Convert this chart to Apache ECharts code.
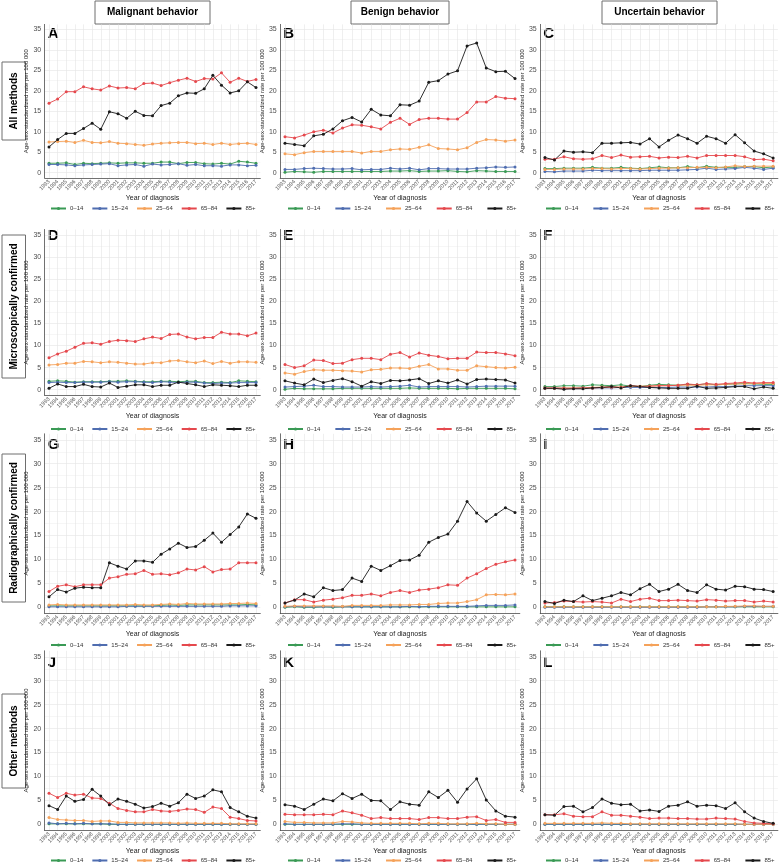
<!DOCTYPE html>
<html><head><meta charset="utf-8">
<script src="https://cdn.jsdelivr.net/npm/echarts@6/dist/echarts.min.js"></script>
<style>html,body{margin:0;padding:0;background:#fff}#c{width:780px;height:864px}</style>
</head><body><div id="c"></div>
<script>
const years = [1993,1994,1995,1996,1997,1998,1999,2000,2001,2002,2003,2004,2005,2006,2007,2008,2009,2010,2011,2012,2013,2014,2015,2016,2017];
const ageGroups = ['0–14','15–24','25–64','65–84','85+'];
const yTicks = [0,5,10,15,20,25,30,35];
const panelLetters = ['A','B','C','D','E','F','G','H','I','J','K','L'];
const columnTitles = ['Malignant behavior','Benign behavior','Uncertain behavior'];
const rowTitles = ['All methods','Microscopically confirmed','Radiographically confirmed','Other methods'];

// each panel: [0–14, 15–24, 25–64, 65–84, 85+]
const A_rates = [
 [2.3,2.3,2.4,2.0,2.3,2.2,2.3,2.4,2.3,2.4,2.4,2.3,2.3,2.6,2.6,2.2,2.5,2.5,2.2,2.1,2.3,2.1,2.8,2.6,2.3],
 [2.0,2.0,1.9,1.7,1.9,2.0,2.1,2.2,1.7,1.9,2.0,1.6,2.1,1.9,2.0,2.2,1.8,2.0,1.7,1.7,1.6,1.9,1.9,1.7,1.8],
 [7.5,7.6,7.7,7.4,7.9,7.4,7.3,7.6,7.2,7.1,6.9,6.7,7.0,7.2,7.3,7.4,7.4,7.1,7.2,6.9,7.2,6.9,7.1,7.2,6.9],
 [17.0,18.0,19.8,19.8,21.0,20.5,20.2,21.2,20.7,20.8,20.5,21.8,21.9,21.3,22.0,22.6,23.1,22.3,23.0,22.9,24.4,22.1,23.1,22.3,22.8],
 [6.3,8.1,9.6,9.6,10.8,12.1,10.6,14.9,14.4,13.3,15.0,14.0,13.9,16.4,17.0,18.8,19.5,19.4,20.5,23.8,21.4,19.5,20.0,22.2,20.8]
];
const B_rates = [
 [0.1,0.3,0.2,0.1,0.3,0.3,0.3,0.3,0.3,0.3,0.3,0.4,0.4,0.5,0.3,0.4,0.4,0.5,0.3,0.2,0.5,0.4,0.3,0.3,0.3],
 [0.8,0.8,1.0,1.1,1.0,0.9,0.9,1.0,0.7,0.8,0.8,1.1,0.9,1.1,0.7,1.0,1.0,0.9,0.9,0.9,1.1,1.2,1.4,1.3,1.4],
 [4.6,4.4,4.9,5.2,5.2,5.2,5.2,5.2,4.8,5.2,5.2,5.6,5.8,5.7,6.2,6.8,5.9,5.8,5.6,6.1,7.4,8.1,8.0,7.7,8.0],
 [8.8,8.5,9.2,10.0,10.4,9.7,10.9,11.7,11.6,11.2,10.7,12.3,13.3,11.8,13.0,13.3,13.3,13.1,13.1,14.7,17.3,17.3,18.6,18.2,18.1],
 [7.2,6.9,6.6,9.0,9.4,10.7,12.7,13.5,12.4,15.5,14.1,13.9,16.6,16.5,17.5,22.1,22.5,24.1,24.9,31.0,31.7,25.6,24.7,24.8,23.0]
];
const C_rates = [
 [1.0,1.0,1.1,1.1,1.1,1.3,1.1,1.1,1.3,1.1,1.0,1.2,1.4,1.2,1.2,1.5,1.2,1.6,1.3,1.3,1.3,1.5,1.5,1.2,1.4],
 [0.3,0.2,0.4,0.4,0.4,0.6,0.5,0.5,0.5,0.5,0.5,0.6,0.6,0.6,0.6,0.7,0.8,1.1,0.8,0.9,1.0,1.3,1.1,0.8,1.1],
 [0.8,0.8,0.9,0.9,0.9,1.0,1.0,0.9,1.0,1.0,0.9,1.0,1.1,1.1,1.2,1.2,1.3,1.3,1.2,1.4,1.7,1.5,1.6,1.6,1.6],
 [3.3,3.3,3.9,3.4,3.3,3.4,4.2,3.7,4.3,3.8,3.9,4.0,3.6,3.8,3.7,4.0,3.6,4.2,4.2,4.2,4.2,3.9,3.2,3.3,2.9],
 [3.7,3.1,5.3,5.0,5.1,4.9,7.2,7.2,7.3,7.4,7.0,8.3,6.3,7.9,9.2,8.3,7.2,8.9,8.3,7.2,9.3,7.3,5.3,4.6,3.6]
];
const D_rates = [
 [1.9,2.0,1.9,1.7,1.8,1.8,1.8,1.9,1.9,2.0,1.9,1.8,1.8,1.9,1.9,1.8,1.9,1.9,1.6,1.6,1.7,1.6,2.0,1.9,1.8],
 [1.6,1.7,1.6,1.6,1.7,1.7,1.7,1.8,1.7,1.8,1.8,1.7,1.6,1.8,1.7,1.6,1.7,1.7,1.5,1.4,1.5,1.5,1.6,1.6,1.6],
 [5.6,5.7,6.0,6.0,6.4,6.3,6.1,6.3,6.2,6.0,5.8,5.8,6.1,6.1,6.5,6.6,6.3,6.1,6.5,5.9,6.4,6.0,6.3,6.3,6.2],
 [7.2,8.1,8.7,9.6,10.5,10.6,10.3,10.9,11.2,11.1,10.9,11.5,11.9,11.6,12.5,12.6,11.9,11.5,11.8,11.8,13.0,12.6,12.6,12.2,12.8],
 [0.3,1.3,0.7,0.7,1.2,0.7,0.6,1.5,0.5,0.8,1.1,1.1,0.7,1.0,1.0,1.7,1.4,1.1,0.7,1.1,1.0,0.9,0.7,1.0,1.0]
];
const E_rates = [
 [0.1,0.3,0.2,0.2,0.2,0.2,0.3,0.3,0.3,0.3,0.3,0.3,0.3,0.4,0.3,0.3,0.3,0.3,0.2,0.3,0.3,0.3,0.3,0.3,0.2],
 [0.6,0.7,0.8,1.0,0.7,0.7,0.6,0.6,0.6,0.7,0.6,0.7,0.8,1.0,0.6,0.7,0.7,0.7,0.7,0.6,0.7,0.8,0.8,0.8,0.8],
 [3.8,3.5,4.1,4.5,4.4,4.4,4.3,4.2,4.0,4.5,4.6,4.9,4.9,4.8,5.3,5.7,4.7,4.7,4.4,4.4,5.4,5.2,5.0,4.9,5.1],
 [5.7,5.0,5.4,6.7,6.6,5.9,6.0,6.8,7.1,7.1,6.8,8.0,8.4,7.4,8.3,7.8,7.5,7.0,7.1,7.1,8.5,8.4,8.4,8.1,7.7],
 [2.0,1.5,1.1,2.4,1.6,2.1,2.5,1.8,0.8,1.8,1.4,2.1,2.0,2.2,2.5,1.4,2.0,1.5,2.2,1.3,2.3,2.4,2.3,2.2,1.5]
];
const F_rates = [
 [0.7,0.7,0.9,0.9,0.8,1.1,1.0,0.9,1.1,0.8,0.7,1.0,1.2,1.1,1.0,1.2,1.1,1.3,1.1,1.2,1.3,1.4,1.3,1.2,1.2],
 [0.3,0.3,0.3,0.3,0.4,0.4,0.4,0.4,0.5,0.5,0.5,0.5,0.5,0.5,0.6,0.6,0.6,0.6,0.7,0.7,0.8,0.9,0.9,0.9,0.9],
 [0.3,0.3,0.4,0.4,0.4,0.5,0.6,0.6,0.6,0.8,0.8,0.8,0.9,0.9,1.0,1.0,1.0,1.1,1.1,1.2,1.3,1.3,1.4,1.4,1.4],
 [0.4,0.4,0.3,0.3,0.4,0.4,0.5,0.6,0.5,0.9,0.7,0.8,0.9,0.9,1.0,1.3,1.1,1.4,1.2,1.4,1.5,1.7,1.5,1.6,1.6],
 [0.3,0.3,0.1,0.2,0.2,0.4,0.5,0.7,0.4,0.9,0.7,0.5,0.4,0.3,0.3,0.3,0.8,0.3,0.4,0.5,0.7,0.7,0.2,0.6,0.3]
];
const G_rates = [
 [0.3,0.3,0.3,0.3,0.3,0.3,0.3,0.3,0.3,0.3,0.3,0.3,0.3,0.4,0.5,0.4,0.5,0.5,0.5,0.5,0.5,0.5,0.5,0.6,0.5],
 [0.1,0.1,0.1,0.1,0.1,0.1,0.1,0.1,0.1,0.2,0.2,0.2,0.2,0.2,0.2,0.2,0.2,0.2,0.2,0.2,0.2,0.3,0.3,0.3,0.3],
 [0.5,0.6,0.5,0.5,0.5,0.5,0.5,0.5,0.5,0.5,0.6,0.5,0.5,0.6,0.7,0.6,0.8,0.7,0.7,0.7,0.7,0.8,0.8,0.9,0.8],
 [3.3,4.4,4.7,4.3,4.7,4.7,4.7,6.1,6.4,6.9,7.0,7.7,6.9,7.0,6.8,7.2,8.0,7.8,8.5,7.4,7.9,8.0,9.3,9.3,9.3],
 [2.2,3.7,3.2,4.0,4.2,4.1,4.1,9.3,8.6,8.0,9.7,9.7,9.4,11.1,12.2,13.4,12.5,12.7,14.0,15.5,13.6,15.2,16.8,19.5,18.6]
];
const H_rates = [
 [0.0,0.1,0.0,0.0,0.1,0.0,0.1,0.1,0.1,0.1,0.1,0.1,0.1,0.1,0.1,0.1,0.1,0.1,0.1,0.1,0.1,0.1,0.1,0.1,0.1],
 [0.1,0.2,0.1,0.1,0.1,0.1,0.1,0.1,0.1,0.1,0.1,0.1,0.1,0.2,0.1,0.2,0.2,0.2,0.2,0.2,0.3,0.4,0.4,0.4,0.5],
 [0.2,0.3,0.3,0.3,0.3,0.3,0.2,0.4,0.4,0.4,0.4,0.5,0.5,0.5,0.6,0.6,0.8,0.9,0.9,1.2,1.6,2.6,2.7,2.6,2.8],
 [0.9,1.6,1.6,1.1,1.5,1.7,2.0,2.5,2.5,2.8,2.4,3.1,3.5,3.1,3.6,3.8,4.1,4.7,4.6,6.1,7.0,8.1,9.0,9.5,9.9],
 [0.9,1.5,2.8,2.2,4.1,3.5,3.7,6.1,5.4,8.6,7.7,8.7,9.8,9.9,10.9,13.6,14.6,15.3,18.0,22.1,19.7,18.0,19.4,20.8,19.8]
];
const I_rates = [
 [0.1,0.1,0.1,0.1,0.1,0.1,0.1,0.1,0.1,0.1,0.1,0.1,0.1,0.1,0.1,0.1,0.1,0.1,0.1,0.1,0.1,0.1,0.1,0.1,0.1],
 [0.0,0.0,0.0,0.0,0.0,0.0,0.0,0.0,0.0,0.0,0.0,0.0,0.0,0.0,0.0,0.0,0.0,0.1,0.1,0.1,0.1,0.2,0.2,0.2,0.2],
 [0.1,0.1,0.1,0.1,0.1,0.1,0.1,0.1,0.1,0.1,0.1,0.1,0.1,0.1,0.1,0.1,0.1,0.1,0.1,0.2,0.2,0.3,0.3,0.2,0.2],
 [0.9,1.0,1.3,1.2,1.1,1.2,1.1,0.9,1.7,1.2,1.7,1.9,1.4,1.4,1.5,1.4,1.3,1.6,1.5,1.3,1.4,1.4,1.1,1.3,1.1],
 [1.2,0.8,1.5,1.2,2.4,1.4,1.9,2.4,3.1,2.6,3.9,4.8,3.3,3.8,4.8,3.5,3.1,4.7,3.8,3.6,4.4,4.3,3.8,3.7,3.3]
];
const J_rates = [
 [0.1,0.1,0.1,0.1,0.1,0.1,0.1,0.0,0.0,0.0,0.0,0.0,0.0,0.0,0.0,0.0,0.0,0.0,0.0,0.0,0.0,0.0,0.0,0.0,0.0],
 [0.3,0.1,0.2,0.1,0.2,0.1,0.1,0.1,0.0,0.0,0.0,0.0,0.0,0.0,0.0,0.0,0.0,0.0,0.0,0.0,0.0,0.0,0.0,0.0,0.0],
 [1.4,1.0,0.9,0.8,0.8,0.6,0.7,0.7,0.4,0.4,0.3,0.3,0.3,0.3,0.3,0.2,0.3,0.2,0.2,0.2,0.2,0.1,0.1,0.1,0.1],
 [6.5,5.6,6.5,6.1,6.3,5.5,5.4,4.4,3.3,2.9,2.6,2.6,3.1,2.8,2.7,2.9,3.2,3.1,2.5,3.6,3.3,1.5,1.2,0.8,0.7],
 [3.9,3.1,5.9,4.8,5.2,7.3,5.9,4.1,5.3,4.8,4.2,3.4,3.7,4.4,3.8,4.5,6.3,5.4,5.9,7.2,6.8,3.5,2.6,1.7,1.3]
];
const K_rates = [
 [0.0,0.0,0.0,0.0,0.0,0.0,0.0,0.0,0.0,0.0,0.0,0.0,0.0,0.0,0.0,0.0,0.0,0.0,0.0,0.0,0.0,0.0,0.0,0.0,0.0],
 [0.1,0.0,0.0,0.0,0.0,0.0,0.1,0.1,0.0,0.0,0.0,0.0,0.0,0.0,0.0,0.0,0.0,0.0,0.0,0.0,0.0,0.0,0.0,0.0,0.0],
 [0.6,0.4,0.4,0.3,0.3,0.3,0.6,0.5,0.3,0.2,0.2,0.2,0.2,0.2,0.1,0.2,0.2,0.1,0.1,0.1,0.2,0.1,0.1,0.0,0.0],
 [2.1,2.0,2.0,2.0,2.1,2.0,2.8,2.4,1.9,1.2,1.4,1.2,1.2,1.2,1.0,1.4,1.4,1.2,1.2,1.5,1.6,0.8,1.0,0.4,0.4],
 [4.1,3.8,3.1,4.2,5.3,4.9,6.4,5.4,6.3,5.0,4.9,3.1,4.7,4.2,4.0,6.8,5.6,7.1,4.6,7.4,9.5,5.1,2.8,1.7,1.5]
];
const L_rates = [
 [0.0,0.0,0.0,0.0,0.0,0.0,0.0,0.0,0.0,0.0,0.0,0.0,0.0,0.0,0.0,0.0,0.0,0.0,0.0,0.0,0.0,0.0,0.0,0.0,0.0],
 [0.0,0.0,0.0,0.0,0.0,0.0,0.0,0.0,0.0,0.0,0.0,0.0,0.0,0.0,0.0,0.0,0.0,0.0,0.0,0.0,0.0,0.0,0.0,0.0,0.0],
 [0.2,0.2,0.2,0.2,0.2,0.2,0.3,0.2,0.2,0.1,0.1,0.1,0.1,0.1,0.1,0.1,0.1,0.1,0.1,0.1,0.1,0.0,0.0,0.0,0.0],
 [2.0,2.0,2.2,1.7,1.6,1.6,2.6,1.9,1.9,1.7,1.5,1.2,1.3,1.3,1.2,1.2,1.1,1.1,1.3,1.2,1.1,0.6,0.3,0.2,0.1],
 [2.0,1.9,3.7,3.8,2.6,3.5,5.3,4.4,4.1,4.2,2.8,3.0,2.7,3.8,4.0,4.7,3.8,4.0,3.9,3.3,4.5,2.6,1.3,0.6,0.2]
];
const panels = [A_rates,B_rates,C_rates,D_rates,E_rates,F_rates,G_rates,H_rates,I_rates,J_rates,K_rates,L_rates];

// ---- styling / layout ----
const seriesColors = ['#3A9A55','#4F6DB0','#F5A25A','#E5484D','#1a1a1a'];
const FONT = 'Liberation Sans, Arial, Helvetica, sans-serif';
const colLeft = [44.7, 280.2, 540.2];
const colWidth = [215.6, 239.6, 238.9];
const rowTop = [24.4, 229.5, 433.8, 650.8];
const rowHeight = [153.4, 165.7, 179.5, 179.5];
const legendTop = [205.5, 426, 642, 857.5];
const legendLeft = [50, 287, 545];
const legendGap = [8, 14, 14];
const letterY = [33.5, 236, 444.5, 662.5];
const clear = 'rgba(0,0,0,0)';

const grid = [], xAxis = [], yAxis = [], series = [], legend = [], graphic = [];
panels.forEach((rates, p) => {
  const r = Math.floor(p / 3), c = p % 3;
  grid.push({left: colLeft[c], top: rowTop[r], width: colWidth[c], height: rowHeight[r], containLabel: false});
  xAxis.push({
    type: 'value', gridIndex: p, min: 1992.5, max: 2017.5, interval: 0.5,
    name: 'Year of diagnosis', nameLocation: 'middle', nameGap: 17,
    nameTextStyle: {fontSize: 7, color: '#222', fontFamily: FONT},
    axisLine: {show: true, onZero: false, lineStyle: {color: '#333', width: 0.7}},
    axisTick: {show: false},
    axisLabel: {fontSize: 5.5, color: '#4d4d4d', rotate: 45, margin: 3, fontFamily: FONT,
      formatter: v => Math.abs(v - Math.round(v)) < 1e-6 ? String(Math.round(v)) : ''},
    splitLine: {show: true, lineStyle: {color: [clear, '#e4e4e4'], width: 0.6}}
  });
  yAxis.push({
    type: 'value', gridIndex: p, min: -1.25, max: 36.25, interval: 1.25,
    name: 'Age-sex-standardized rate per 100 000', nameLocation: 'middle', nameGap: 11,
    nameTextStyle: {fontSize: 6, color: '#222', fontFamily: FONT},
    axisLine: {show: true, onZero: false, lineStyle: {color: '#333', width: 0.7}},
    axisTick: {show: false},
    axisLabel: {fontSize: 7, color: '#4d4d4d', margin: 3.5, fontFamily: FONT,
      formatter: v => yTicks.some(t => Math.abs(t - v) < 1e-6) ? String(Math.round(v)) : ''},
    splitLine: {show: true, lineStyle: {color: [clear, '#e4e4e4', clear, '#f0f0f0'], width: 0.6}}
  });
  rates.forEach((vals, s) => {
    series.push({
      type: 'line', name: ageGroups[s], xAxisIndex: p, yAxisIndex: p,
      data: years.map((y, i) => [y, vals[i]]),
      symbol: 'circle', symbolSize: 3, showSymbol: true,
      lineStyle: {width: 0.9, color: seriesColors[s]},
      itemStyle: {color: seriesColors[s]},
      animation: false, silent: true
    });
  });
  legend.push({
    data: ageGroups, left: legendLeft[c], top: legendTop[r], itemGap: legendGap[c],
    itemWidth: 15, itemHeight: 4, padding: 0, orient: 'horizontal',
    textStyle: {fontSize: 6, color: '#333', fontFamily: FONT, padding: [0,0,0,-1]}
  });
  graphic.push({type: 'text', x: colLeft[c] + 3, y: letterY[r],
    style: {text: panelLetters[p], font: 'bold 15px ' + FONT, fill: '#000',
      align: 'left', textAlign: 'left', verticalAlign: 'middle', textVerticalAlign: 'middle'}});
});

// column header boxes
const headerBox = [[95,115],[351,98],[602,115]];
columnTitles.forEach((t, c) => {
  const [x, w] = headerBox[c];
  graphic.push({type: 'rect', shape: {x: x, y: 1, width: w, height: 23}, style: {fill: '#fff', stroke: '#6e6e6e', lineWidth: 1}});
  graphic.push({type: 'text', x: x + w / 2, y: 12.5,
    style: {text: t, font: 'bold 10px ' + FONT, fill: '#000', align: 'center', textAlign: 'center', verticalAlign: 'middle', textVerticalAlign: 'middle'}});
});
// row label boxes
const rowBox = [[62,78],[235,143],[454,148],[694,94]];
rowTitles.forEach((t, r) => {
  const [y, h] = rowBox[r];
  graphic.push({type: 'rect', shape: {x: 2, y: y, width: 23.5, height: h}, style: {fill: '#fff', stroke: '#6e6e6e', lineWidth: 1}});
  graphic.push({type: 'text', x: 13.75, y: y + h / 2, rotation: Math.PI / 2,
    style: {text: t, font: 'bold 10px ' + FONT, fill: '#000', align: 'center', textAlign: 'center', verticalAlign: 'middle', textVerticalAlign: 'middle'}});
});

const chart = echarts.init(document.getElementById('c'), null, {renderer: 'canvas'});
chart.setOption({
  backgroundColor: '#fff', animation: false,
  textStyle: {fontFamily: FONT},
  grid, xAxis, yAxis, series, legend, graphic
});
</script></body></html>
